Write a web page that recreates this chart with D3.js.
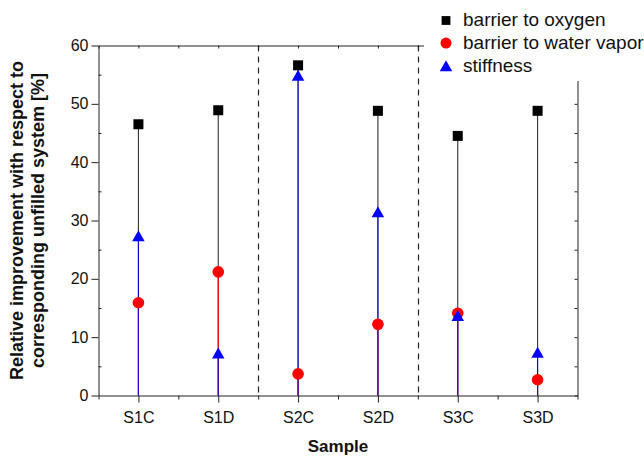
<!DOCTYPE html>
<html>
<head>
<meta charset="utf-8">
<script src="https://cdn.jsdelivr.net/npm/d3@7"></script>
<style>
  html, body { margin: 0; padding: 0; background: #fff; }
  svg { display: block; font-family: "Liberation Sans", Arial, sans-serif; }
</style>
</head>
<body>
<svg id="chart" width="644" height="456"></svg>
<script>
// ---- data ----
const categories = ["S1C", "S1D", "S2C", "S2D", "S3C", "S3D"];
const oxygen    = [46.5, 48.9, 56.6, 48.8, 44.5, 48.8];
const water     = [15.9, 21.2, 3.7, 12.2, 14.1, 2.7];
const stiffness = [27.4, 7.3, 54.9, 31.5, 13.7, 7.4];
const yTicks = [0, 10, 20, 30, 40, 50, 60];
const yMinorTicks = [5, 15, 25, 35, 45, 55];
const groupBoundaries = [1.5, 3.5];
const legendLabels = ["barrier to oxygen", "barrier to water vapor", "stiffness"];
const xTitle = "Sample";
const yTitleLines = ["Relative improvement with respect to", "corresponding unfilled system [%]"];

// ---- layout ----
const svg = d3.select("#chart");
const plotLeft = 98.5, plotRight = 577.5, plotTop = 45.5, plotBottom = 395.5;
const axisColor = "#222";

const x = d3.scaleLinear().domain([-0.5, categories.length - 0.5]).range([plotLeft, plotRight]);
const y = d3.scaleLinear().domain([0, 60]).range([plotBottom, plotTop]);
const halfSteps = d3.range(-0.5, categories.length, 1);
const allFiveSteps = d3.range(0, 61, 5);

function styleAxis(g) {
  g.selectAll("path, line").attr("stroke", axisColor).attr("stroke-width", 1);
  g.selectAll("text").attr("fill", "#111").style("font-size", "16px")
   .style("font-family", "'Liberation Sans', Arial, sans-serif");
}

// dashed group separators
svg.append("g").selectAll("line").data(groupBoundaries).join("line")
  .attr("x1", d => Math.round(x(d)) + 0.5).attr("x2", d => Math.round(x(d)) + 0.5)
  .attr("y1", y(60)).attr("y2", y(0))
  .attr("stroke", axisColor).attr("stroke-width", 1.2).attr("stroke-dasharray", "6,5");

// stems
const series = [
  { values: oxygen, color: "#333333", shape: "square" },
  { values: water, color: "#ff0000", shape: "circle" },
  { values: stiffness, color: "#0000ff", shape: "triangle" }
];
series.forEach(s => {
  svg.append("g").selectAll("line").data(s.values).join("line")
    .attr("x1", (d, i) => x(i)).attr("x2", (d, i) => x(i))
    .attr("y1", y(0)).attr("y2", d => y(d))
    .attr("stroke", s.color).attr("stroke-width", 1.1)
    .attr("stroke-opacity", s.shape === "triangle" ? 0.85 : 1);
});

// markers
function marker(sel, shape, color, cx, cy, scale) {
  const k = scale || 1;
  if (shape === "square") {
    const a = 10 * k;
    sel.append("rect").attr("x", cx - a / 2).attr("y", cy - a / 2).attr("width", a).attr("height", a).attr("fill", "#000");
  } else if (shape === "circle") {
    sel.append("circle").attr("cx", cx).attr("cy", cy).attr("r", 5.8 * k).attr("fill", color);
  } else {
    const w = 12.5 * k, h = 11 * k;
    sel.append("path").attr("d", `M${cx},${cy - h / 2}L${cx + w / 2},${cy + h / 2}L${cx - w / 2},${cy + h / 2}Z`).attr("fill", color);
  }
}
series.forEach(s => {
  const g = svg.append("g");
  s.values.forEach((v, i) => marker(g, s.shape, s.color, x(i), y(v)));
});

// axes
svg.append("g").attr("transform", `translate(${plotLeft},0)`)
  .call(d3.axisLeft(y).tickValues(yTicks).tickSize(7).tickPadding(3).tickSizeOuter(0))
  .call(styleAxis);
svg.append("g").attr("transform", `translate(${plotLeft},0)`)
  .call(d3.axisLeft(y).tickValues(yMinorTicks).tickSize(-3).tickFormat("").tickSizeOuter(0))
  .call(g => g.select(".domain").remove()).call(styleAxis);
svg.append("g").attr("transform", `translate(${plotRight},0)`)
  .call(d3.axisRight(y).tickValues(allFiveSteps).tickSize(-3).tickFormat("").tickSizeOuter(0))
  .call(styleAxis);
svg.append("g").attr("transform", `translate(0,${plotTop})`)
  .call(d3.axisTop(x).tickValues(halfSteps.concat(d3.range(categories.length))).tickSize(-3).tickFormat("").tickSizeOuter(0))
  .call(styleAxis);
svg.append("g").attr("transform", `translate(0,${plotBottom})`)
  .call(d3.axisBottom(x).tickValues(d3.range(categories.length)).tickFormat(i => categories[i]).tickSize(7).tickPadding(9).tickSizeOuter(0))
  .call(styleAxis);
svg.append("g").attr("transform", `translate(0,${plotBottom})`)
  .call(d3.axisBottom(x).tickValues(halfSteps).tickSize(4).tickFormat("").tickSizeOuter(0))
  .call(g => g.select(".domain").remove()).call(styleAxis);

// titles
svg.append("text").attr("x", (plotLeft + plotRight) / 2).attr("y", 452)
  .attr("text-anchor", "middle").style("font-size", "17px").style("font-weight", "bold").attr("fill", "#111")
  .text(xTitle);
const yt = svg.append("text").attr("transform", `translate(0,${(plotTop + plotBottom) / 2}) rotate(-90)`)
  .attr("text-anchor", "middle").style("font-size", "18px").style("font-weight", "bold").attr("fill", "#111");
yt.selectAll("tspan").data(yTitleLines).join("tspan")
  .attr("x", 0).attr("y", (d, i) => 23 + i * 20.5).text(d => d);

// legend (white box covering the upper-right of the frame)
svg.append("rect").attr("x", 424).attr("y", 0).attr("width", 220).attr("height", 81).attr("fill", "#fff");
const lg = svg.append("g");
series.forEach((s, i) => {
  const cy = 20.5 + i * 22.6;
  marker(lg, s.shape, s.color, 446, cy, s.shape === "square" ? 0.88 : (s.shape === "circle" ? 0.95 : 1));
  lg.append("text").attr("x", 463).attr("y", cy + 5.8 + (i === 2 ? 0.5 : 0))
    .style("font-size", "19px").attr("fill", "#111").text(legendLabels[i]);
});
</script>
</body>
</html>
